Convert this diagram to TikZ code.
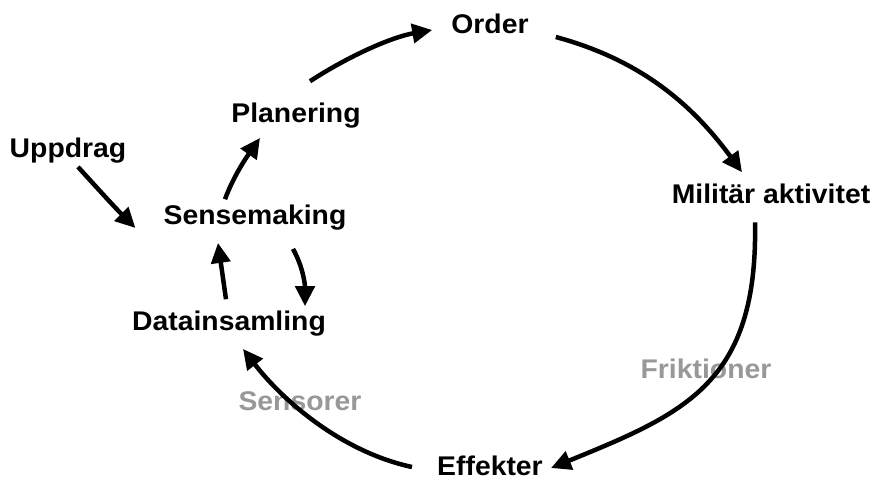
\documentclass[tikz,border=0pt]{standalone}
\usepackage{fontspec}
\setmainfont{Liberation Sans}[FakeStretch=1.05]
\usetikzlibrary{arrows.meta}
\definecolor{faint}{HTML}{989898}

\begin{document}
\begin{tikzpicture}[x=1pt,y=-1pt,>={Triangle[length=20pt,width=19pt]},
 lbl/.style={inner sep=0pt,anchor=base,font=\fontsize{27}{31}\selectfont\bfseries},
 arr/.style={->,line width=4.5pt}]
\useasboundingbox (0,0) rectangle (877,479);
% steps of the loop
\node[lbl] (upp) at (68,157) {Uppdrag};
\node[lbl] (sense) at (255,224) {Sensemaking};
\node[lbl] (plan) at (296,122) {Planering};
\node[lbl] (data) at (229,330) {Datainsamling};
\node[lbl] (order) at (490,33) {Order};
\node[lbl] (mil) at (771,203) {Militär aktivitet};
\node[lbl] (eff) at (490,475) {Effekter};
\node[lbl,faint] (frik) at (706,378) {Friktioner};
\node[lbl,faint] (sens) at (300,410) {Sensorer};
% inner loop
\draw[arr] ([shift={(10,4)}]upp.south) .. controls +(20,22) and +(-20,-20) .. ([shift={(-28,4)}]sense.base west);
\draw[arr] ([shift={(-30,-5)}]sense.north) .. controls +(8,-22) and +(-14,20) .. ([shift={(-36,10)}]plan.south);
\draw[arr] ([shift={(-3,-11)}]data.north) -- ([shift={(-37,13)}]sense.south);
\draw[arr] ([shift={(38,19)}]sense.south) .. controls +(10,18) and +(0,-22) .. ([shift={(76,-4)}]data.north);
% outer loop
\draw[arr] ([shift={(14,-21)}]plan.north) .. controls +(40,-26) and +(-40,7) .. ([shift={(-19,-3)}]order.base west);
\draw[arr] ([shift={(27,4)}]order.base east) .. controls +(85,23) and +(-50,-68) .. ([shift={(-29,-11)}]mil.north);
\draw[arr] ([shift={(-16,19)}]mil.south) .. controls +(3,160) and +(135,-55) .. ([shift={(8,-7)}]eff.base east);
\draw[arr] ([shift={(-25,-8)}]eff.base west) .. controls +(-70,-15) and +(40,52) .. ([shift={(14,13)}]data.south);
\end{tikzpicture}
\end{document}
